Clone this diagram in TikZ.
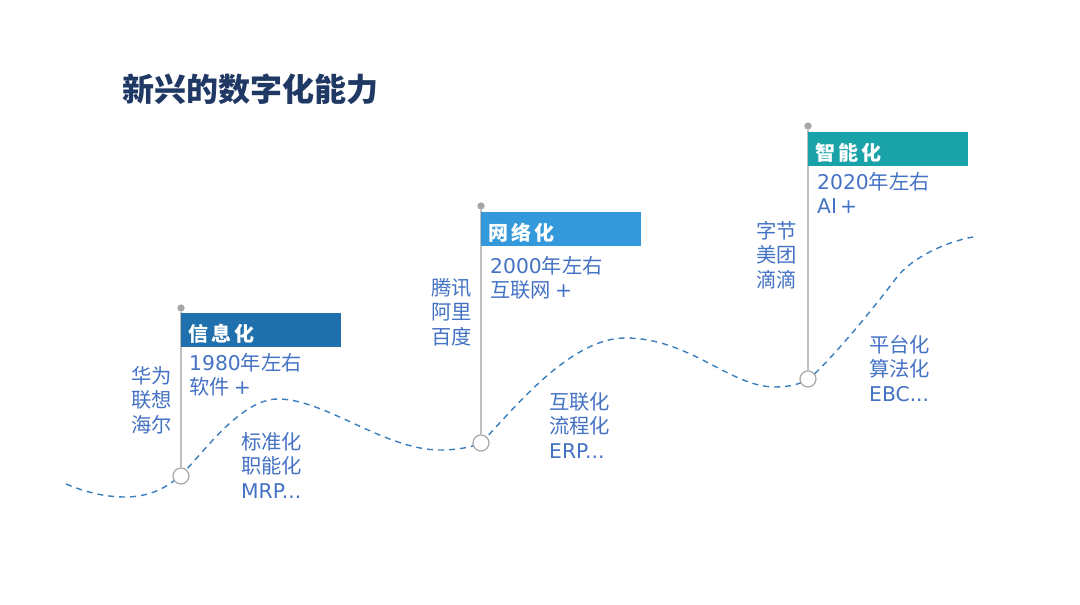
\documentclass[tikz,border=0pt]{standalone}
\usepackage{fontspec}
\setmainfont{Noto Sans CJK SC}
\newfontfamily\latfont{DejaVu Sans}
\newcommand\lat[1]{{\latfont #1}}
\definecolor{titlec}{HTML}{203864}
\definecolor{txtc}{HTML}{4472C4}
\definecolor{ban1}{HTML}{1F70AD}
\definecolor{ban2}{HTML}{3399DB}
\definecolor{ban3}{HTML}{19A3A8}
\definecolor{polec}{HTML}{BFBFBF}
\definecolor{dotc}{HTML}{A6A6A6}
\definecolor{curvec}{HTML}{3A7EBD}
\tikzset{
  banner/.style={anchor=north west, minimum height=34pt, text width=146pt, text height=23pt, text depth=0pt, inner xsep=7pt, inner ysep=0pt, align=left, text=white, font=\fontsize{20}{20}\selectfont\bfseries},
  body/.style={inner sep=0pt, text=txtc, font=\fontsize{20.3}{24.5}\selectfont},
  pole/.style={draw=polec, line width=1.8pt},
  topdot/.style={circle, fill=dotc, minimum size=7pt, inner sep=0pt},
  ring/.style={circle, draw=dotc, fill=white, line width=1.2pt, minimum size=16pt, inner sep=0pt},
  wave/.style={draw=curvec, line width=1.4pt, dash pattern=on 6pt off 5pt}
}
\newcommand\bt[3]{#1\hspace{3pt}#2\hspace{3pt}#3}
\begin{document}
\begin{tikzpicture}[x=1pt,y=-1pt]
\useasboundingbox (0,0) rectangle (1080,605);
\fill[white] (0,0) rectangle (1080,605);
% title
\node[anchor=west, inner sep=0pt, text=titlec, font=\fontsize{32}{32}\selectfont\bfseries] (title) at (122,89) {新兴的数字化能力};
% wave
\path[wave] (66,484) .. controls (85,492) and (105,497) .. (125,497)
  .. controls (150,497) and (168,487) .. (181,475)
  .. controls (202,455) and (240,399) .. (278,399)
  .. controls (325,399) and (385,450) .. (440,450)
  .. controls (458,450) and (472,447) .. (481,443)
  .. controls (508,416) and (568,338) .. (625,338)
  .. controls (690,338) and (730,387) .. (775,387)
  .. controls (790,387) and (800,384) .. (809,379)
  .. controls (835,356) and (880,300) .. (897,277)
  .. controls (912,258) and (945,242) .. (973,237);
% flag 1
\node[topdot] (d1) at (181,308) {};
\node[ring] (r1) at (181,476) {};
\draw[pole] (d1) -- (r1);
\node[topdot] at (181,308) {};
\node[banner, fill=ban1] (b1) at (181,313) {\bt{信}{息}{化}};
\node[body, anchor=north west, align=left] (t1) at (189,353) {\lat{1980}年左右\\软件\hspace{4pt}\lat{+}};
\node[body, anchor=north east, align=right] (l1) at (172,366) {华为\\联想\\海尔};
\node[body, anchor=north west, align=left] (u1) at (241,432) {标准化\\职能化\\\lat{MRP...}};
% flag 2
\node[topdot] (d2) at (481,206) {};
\node[ring] (r2) at (481,443) {};
\draw[pole] (d2) -- (r2);
\node[topdot] at (481,206) {};
\node[banner, fill=ban2] (b2) at (481,212) {\bt{网}{络}{化}};
\node[body, anchor=north west, align=left] (t2) at (490,256) {\lat{2000}年左右\\互联网\hspace{4pt}\lat{+}};
\node[body, anchor=north east, align=right] (l2) at (472,278) {腾讯\\阿里\\百度};
\node[body, anchor=north west, align=left] (u2) at (549,392) {互联化\\流程化\\\lat{ERP...}};
% flag 3
\node[topdot] (d3) at (808,126) {};
\node[ring] (r3) at (808,379) {};
\draw[pole] (d3) -- (r3);
\node[topdot] at (808,126) {};
\node[banner, fill=ban3] (b3) at (808,132) {\bt{智}{能}{化}};
\node[body, anchor=north west, align=left] (t3) at (817,172) {\lat{2020}年左右\\\lat{AI\hspace{3pt}+}};
\node[body, anchor=north east, align=right] (l3) at (797,221) {字节\\美团\\滴滴};
\node[body, anchor=north west, align=left] (u3) at (869,335) {平台化\\算法化\\\lat{EBC...}};
\end{tikzpicture}
\end{document}
